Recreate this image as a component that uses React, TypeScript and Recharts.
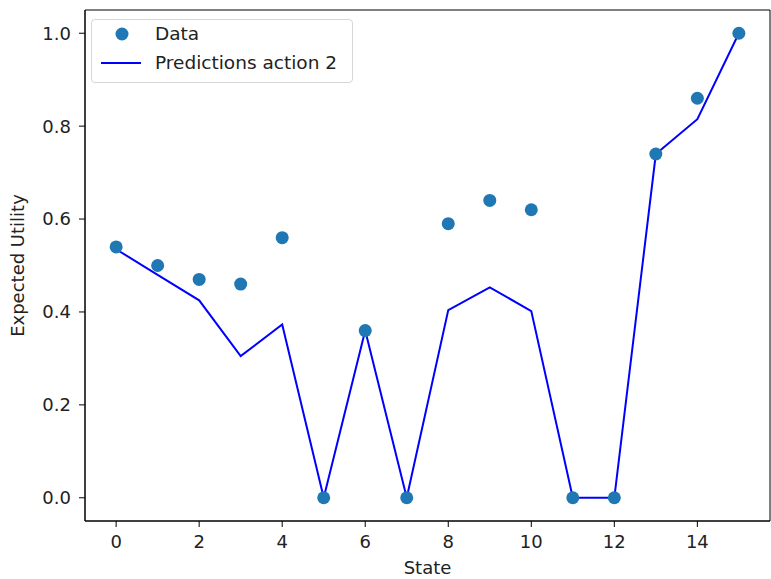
import {
  ComposedChart,
  Legend,
  Line,
  ReferenceArea,
  Scatter,
  XAxis,
  YAxis
} from "recharts";

const STATES = [0, 1, 2, 3, 4, 5, 6, 7, 8, 9, 10, 11, 12, 13, 14, 15];
const OBSERVED = [0.54, 0.5, 0.47, 0.46, 0.56, 0.0, 0.36, 0.0, 0.59, 0.64, 0.62, 0.0, 0.0, 0.74, 0.86, 1.0];
const PREDICTED = [0.535, 0.48, 0.425, 0.305, 0.373, 0.0, 0.36, 0.0, 0.404, 0.453, 0.402, 0.0, 0.0, 0.74, 0.815, 1.0];

const X_TICKS = [0, 2, 4, 6, 8, 10, 12, 14];
const Y_TICKS = [0, 0.2, 0.4, 0.6, 0.8, 1.0];

const DOT_COLOR = "#1f77b4";
const LINE_COLOR = "#0000ff";
const FONT = "'DejaVu Sans', sans-serif";
const TICK = { fontSize: 18, fill: "#222", fontFamily: FONT } as const;

const rows = STATES.map((state, i) => ({ state, data: OBSERVED[i], pred: PREDICTED[i] }));

function Dot(props: any) {
  const { cx, cy } = props;
  if (cx == null || cy == null) return null;
  return <circle cx={cx} cy={cy} r={6.5} fill={DOT_COLOR} />;
}

function LegendBox() {
  return (
    <div
      style={{
        position: "absolute",
        left: 91,
        top: 19,
        width: 262,
        height: 64,
        boxSizing: "border-box",
        border: "1px solid #d6d6d6",
        borderRadius: 4,
        background: "rgba(255,255,255,0.8)",
        fontFamily: FONT,
        fontSize: 18.5,
        color: "#222"
      }}
    >
      <svg width={60} height={64} style={{ position: "absolute", left: 0, top: 0 }}>
        <circle cx={30} cy={14} r={6.5} fill={DOT_COLOR} />
        <line x1={9} y1={43} x2={49} y2={43} stroke={LINE_COLOR} strokeWidth={2} />
      </svg>
      <div style={{ position: "absolute", left: 63, top: 3, lineHeight: "22px" }}>Data</div>
      <div style={{ position: "absolute", left: 63, top: 32, lineHeight: "22px" }}>Predictions action 2</div>
    </div>
  );
}

export default function App() {
  return (
    <div style={{ position: "absolute", left: 0, top: 0, width: 771, height: 579, background: "#fff" }}>
      <ComposedChart
        width={771}
        height={579}
        data={rows}
        margin={{ top: 10, right: 1, bottom: 0, left: 0 }}
      >
        <XAxis
          type="number"
          dataKey="state"
          domain={[-0.75, 15.75]}
          ticks={X_TICKS}
          allowDataOverflow
          height={58}
          tick={TICK}
          tickSize={6}
          tickMargin={8}
          stroke="#000"
          label={{ value: "State", position: "insideBottom", offset: 5, fontSize: 18, fill: "#222", fontFamily: FONT }}
        />
        <YAxis
          type="number"
          domain={[-0.05, 1.05]}
          ticks={Y_TICKS}
          allowDataOverflow
          width={85}
          tick={TICK}
          tickSize={6}
          tickMargin={8}
          stroke="#000"
          tickFormatter={(v: number) => v.toFixed(1)}
          label={{ value: "Expected Utility", angle: -90, position: "insideLeft", offset: 18, fontSize: 18, fill: "#222", fontFamily: FONT, style: { textAnchor: "middle" } }}
        />
        <ReferenceArea x1={-0.75} x2={15.75} y1={-0.05} y2={1.05} fill="none" stroke="#000" strokeWidth={1} />
        <Scatter dataKey="data" fill={DOT_COLOR} shape={<Dot />} isAnimationActive={false} />
        <Line
          type="linear"
          dataKey="pred"
          stroke={LINE_COLOR}
          strokeWidth={2}
          dot={false}
          activeDot={false}
          isAnimationActive={false}
        />
        <Legend content={() => null} />
      </ComposedChart>
      <LegendBox />
    </div>
  );
}
